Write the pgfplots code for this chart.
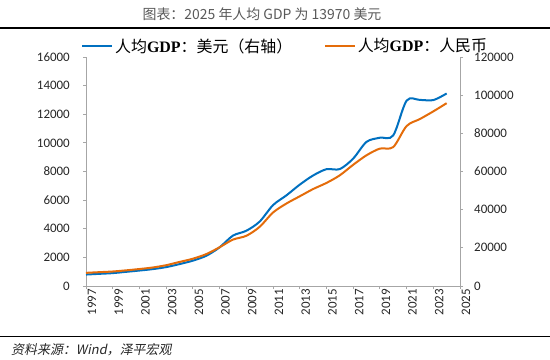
\documentclass[border=0pt]{standalone}
\usepackage{fontspec}
\usepackage{pgfplots}
\pgfplotsset{compat=1.18}
\setmainfont{Carlito}
\newfontfamily\cjk{Noto Sans CJK SC}
\newfontfamily\cjkit[FakeSlant=0.2]{Noto Sans CJK SC}
\newfontfamily\lserif{Liberation Serif}
\definecolor{bl}{HTML}{0070C0}
\definecolor{orr}{HTML}{E46C0A}
\definecolor{axg}{HTML}{A6A6A6}

\pgfplotstableread{
year usd
1997 800
1998 850
1999 900
2000 990
2001 1080
2002 1180
2003 1320
2004 1530
2005 1770
2006 2110
2007 2700
2008 3520
2009 3860
2010 4500
2011 5650
2012 6330
2013 7080
2014 7720
2015 8160
2016 8170
2017 8900
2018 10070
2019 10360
2020 10520
2021 12950
2022 13000
2023 12990
2024 13450
}\usdtable

\pgfplotstableread{
year rmb
1997 6900
1998 7250
1999 7600
2000 8200
2001 8900
2002 9700
2003 10900
2004 12600
2005 14300
2006 16700
2007 20300
2008 24300
2009 26300
2010 31000
2011 38500
2012 43200
2013 47000
2014 50800
2015 54000
2016 58000
2017 63500
2018 68500
2019 72000
2020 72800
2021 83800
2022 87500
2023 91500
2024 95800
}\rmbtable

\pgfplotsset{
  common/.style={
    at={(86bp,73bp)}, anchor=south west, scale only axis,
    width=374bp, height=229bp,
    xmin=1997, xmax=2025,
    tick align=outside, major tick length=3bp,
    axis line style={axg, line width=0.8bp},
    tick style={axg, line width=0.8bp},
    /pgf/number format/assume math mode=true,
    /pgf/number format/fixed,
    /pgf/number format/1000 sep={},
    scaled y ticks=false,
    tick label style={font=\fontsize{13}{13}\selectfont, text=black!85},
    clip=false,
  }
}

\begin{document}
\begin{tikzpicture}[x=1bp,y=1bp]
\useasboundingbox (0,0) rectangle (550,359);
\node[text=black!65, font=\cjk\fontsize{14}{16}\selectfont] at (262,345) {图表：2025 年人均 GDP 为 13970 美元};
\draw[line width=1.4bp] (0,331) -- (550,331);
\draw[line width=1.4bp] (0,22.5) -- (550,22.5);
\node[anchor=west, inner sep=0, font=\cjkit\fontsize{13}{15}\selectfont, text=black!85] at (11,9) {资料来源：Wind，泽平宏观};

\begin{axis}[common,
  ymin=0, ymax=16000,
  axis y line*=left, axis x line*=bottom,
  xtick={1997,1999,...,2025},
  ytick={0,2000,...,16000},
  x tick label style={rotate=90, anchor=east, inner sep=0pt, yshift=-6bp},
  y tick label style={anchor=east, inner sep=0pt, xshift=-13bp},
  legend columns=2,
  legend style={at={(-0.0134,1.048)}, anchor=west, draw=none, fill=none,
    inner sep=0pt, font=\cjk\fontsize{16}{18}\selectfont,
    /tikz/every even column/.append style={column sep=30bp},
    nodes={inner sep=1.5bp}},
  legend image code/.code={\draw[#1, line width=2.5bp] (0bp,0bp) -- (30bp,0bp);},
]
\addplot[bl, line width=2bp, smooth, tension=0.5] table[x=year, y=usd] {\usdtable};
\addlegendentry{人均{\lserif\bfseries GDP}：美元（右轴）}
\addlegendimage{orr}
\addlegendentry{人均{\lserif\bfseries GDP}：人民币}
\end{axis}

\begin{axis}[common,
  ymin=0, ymax=120000,
  axis y line*=right, axis x line=none,
  ytick={0,20000,...,120000},
  y tick label style={anchor=west, inner sep=0pt, xshift=11bp},
]
\addplot[orr, line width=2bp, smooth, tension=0.5] table[x=year, y=rmb] {\rmbtable};
\end{axis}
\end{tikzpicture}
\end{document}
